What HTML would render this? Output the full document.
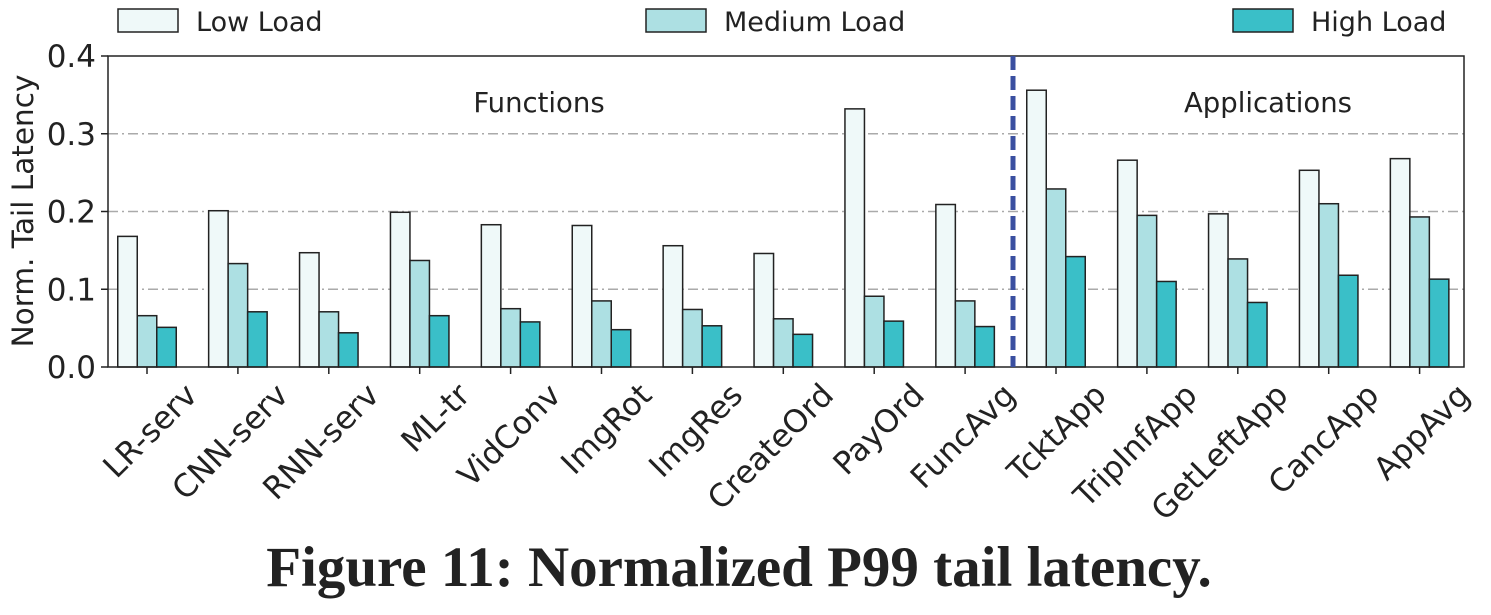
<!DOCTYPE html>
<html><head><meta charset="utf-8"><style>
body{margin:0;background:#fff;width:1491px;height:610px;overflow:hidden}
text{font-family:"DejaVu Sans","Liberation Sans",sans-serif;fill:#222}
</style></head><body>
<svg id="chart" width="1491" height="610"></svg>
<script>
const categories=["LR-serv","CNN-serv","RNN-serv","ML-tr","VidConv","ImgRot","ImgRes","CreateOrd","PayOrd","FuncAvg","TcktApp","TripInfApp","GetLeftApp","CancApp","AppAvg"];
const lowLoad=[0.168,0.201,0.147,0.199,0.183,0.182,0.156,0.146,0.332,0.209,0.356,0.266,0.197,0.253,0.268];
const mediumLoad=[0.066,0.133,0.071,0.137,0.075,0.085,0.074,0.062,0.091,0.085,0.229,0.195,0.139,0.210,0.193];
const highLoad=[0.051,0.071,0.044,0.066,0.058,0.048,0.053,0.042,0.059,0.052,0.142,0.110,0.083,0.118,0.113];
const yTicks=[0.0,0.1,0.2,0.3,0.4];
const seriesNames=["Low Load","Medium Load","High Load"];
const seriesColors=["#eff9f9","#ade0e3","#3abfc8"];
const svg=document.getElementById('chart');
const NS="http://www.w3.org/2000/svg";
function mk(t,a,p){const e=document.createElementNS(NS,t);for(const k in a)e.setAttribute(k,a[k]);(p||svg).appendChild(e);return e;}
const L=108,R=1464,T=56,B=367;
const y=v=>B-(v/0.4)*(B-T);
const x=i=>147+i*90.9;
const bw=19.5;
yTicks.forEach(t=>{
 if(t>0&&t<0.4){const g=mk('line',{x1:L,x2:R,y1:y(t),y2:y(t),stroke:'#aaa','stroke-width':1.5,'stroke-dasharray':'10,4,2,4'});
 }
 const tk=mk('line',{x1:L-7,x2:L,y1:y(t),y2:y(t),stroke:'#222','stroke-width':1.5});
 
 const lb=mk('text',{x:L-12,y:y(t)+11,'text-anchor':'end','font-size':31});lb.textContent=t.toFixed(1);
 
});
const series=[lowLoad,mediumLoad,highLoad];
categories.forEach((c,i)=>{
 series.forEach((s,j)=>{
  const r=mk('rect',{x:x(i)+(j-1.5)*bw,y:y(s[i]),width:bw,height:B-y(s[i]),fill:seriesColors[j],stroke:'#222','stroke-width':1.5});
  
 });
 const tk=mk('line',{x1:x(i),x2:x(i),y1:B,y2:B+7,stroke:'#222','stroke-width':1.5});
 
 const ax=x(i)+52, ay=B+30;
 const lb=mk('text',{x:ax,y:ay,'text-anchor':'end','font-size':31.5,transform:`rotate(-45 ${ax} ${ay})`});
 lb.textContent=c;
});
const fr=mk('rect',{x:L,y:T,width:R-L,height:B-T,fill:'none',stroke:'#222','stroke-width':1.5});

const dl=mk('line',{x1:1013,x2:1013,y1:T,y2:B,stroke:'#3a4fa0','stroke-width':5,'stroke-dasharray':'14,6'});

const f=mk('text',{x:539,y:112,'text-anchor':'middle','font-size':27.5});f.textContent='Functions';

const a=mk('text',{x:1268,y:112,'text-anchor':'middle','font-size':27.5});a.textContent='Applications';

const yt=mk('text',{x:33,y:211,'text-anchor':'middle','font-size':29.5,transform:'rotate(-90 33 211)'});yt.textContent='Norm. Tail Latency';

const lx=[118,646,1233];
seriesNames.forEach((n,j)=>{
 const r=mk('rect',{x:lx[j],y:9,width:60,height:23,fill:seriesColors[j],stroke:'#222','stroke-width':1.5});
 
 const t=mk('text',{x:lx[j]+78,y:31,'font-size':27});t.textContent=n;
 
});
const cap=mk('text',{x:739,y:586,'text-anchor':'middle','font-size':57,'font-weight':'bold',style:'font-family:"Liberation Serif",serif'});
cap.textContent='Figure 11: Normalized P99 tail latency.';

</script>
</body></html>
